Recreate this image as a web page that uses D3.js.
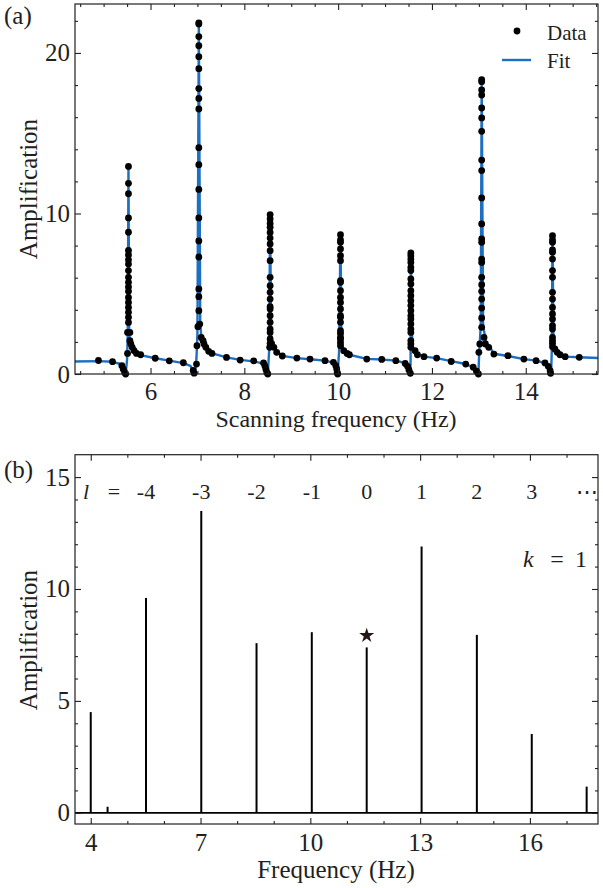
<!DOCTYPE html>
<html><head><meta charset="utf-8">
<script src="https://cdn.jsdelivr.net/npm/d3@7"></script>
<style>body{margin:0;background:#fff}svg{display:block}</style>
</head><body>
<svg id="c" width="603" height="888"></svg>
<script>
// ---------- Panel (a) data ----------
const peakCenters = [5.53, 7.03, 8.55, 10.05, 11.55, 13.06, 14.57];
const peakColumnValues = [
  [12.93, 11.88, 11.23, 9.72, 8.83, 7.70, 7.42, 7.11, 6.85, 6.44, 6.02, 5.71, 5.42, 5.15, 4.77, 4.46, 4.15, 3.84, 3.53, 3.21],
  [21.88, 21.80, 21.02, 20.45, 19.77, 19.02, 17.78, 17.17, 16.51, 14.10, 13.04, 11.50, 9.72, 8.29, 7.29, 5.30, 4.82, 3.94],
  [9.93, 9.66, 9.38, 9.14, 8.82, 8.47, 8.10, 7.68, 7.06, 6.02, 5.50, 5.09, 4.67, 4.19, 4.05, 3.63, 3.22, 2.80, 2.59, 2.18, 1.91],
  [8.68, 8.35, 8.20, 7.79, 7.37, 7.06, 5.81, 5.71, 5.19, 4.77, 4.46, 4.05, 3.63, 3.53, 3.22, 2.70, 2.53, 2.28, 2.18, 1.97, 1.76],
  [7.54, 7.37, 7.16, 6.95, 6.64, 6.44, 5.92, 5.61, 5.19, 4.88, 4.57, 4.26, 3.94, 3.63, 3.42, 3.12, 2.80, 2.59, 2.08, 1.87, 1.66],
  [18.33, 18.21, 17.70, 17.38, 16.57, 15.95, 15.12, 13.33, 12.67, 10.97, 9.35, 8.41, 8.20, 7.16, 6.95, 6.02, 5.56, 5.15, 4.67, 4.11, 3.49, 2.91],
  [8.62, 8.35, 8.20, 7.73, 7.58, 7.16, 6.44, 6.02, 5.09, 4.67, 4.15, 3.74, 3.42, 3.01, 2.80, 2.28, 2.08, 1.91, 1.70]
];
const offPeakPoints = [
  [4.89,0.84],[5.19,0.77],[5.39,0.52],[5.42,0.30],[5.45,0.10],[5.47,0.0],[5.51,1.28],[5.51,2.59],[5.56,2.59],
  [5.56,2.07],[5.58,1.87],[5.61,1.66],[5.65,1.45],[5.70,1.28],[5.79,1.20],[6.10,0.98],[6.40,0.82],[6.70,0.70],
  [6.91,0.22],[6.93,0.05],[6.98,0.62],[6.99,1.76],[7.01,2.95],
  [7.05,3.11],[7.08,2.28],[7.12,2.07],[7.14,1.87],[7.18,1.66],[7.24,1.41],[7.31,1.28],[7.62,1.03],[7.91,0.87],[8.20,0.82],
  [8.41,0.69],[8.44,0.50],[8.46,0.30],[8.48,0.10],[8.50,0.0],[8.54,1.66],
  [8.58,1.90],[8.63,1.66],[8.69,1.35],[8.81,1.12],[9.12,0.99],[9.40,0.93],[9.72,0.83],
  [9.90,0.73],[9.95,0.52],[9.97,0.31],[9.98,0.10],[9.99,0.0],
  [10.12,1.45],[10.19,1.28],[10.24,1.20],[10.61,0.93],[10.93,0.91],[11.23,0.83],[11.43,0.66],[11.48,0.48],[11.51,0.25],[11.54,0.04],
  [11.64,1.45],[11.69,1.20],[11.83,1.08],[12.10,0.99],[12.41,0.78],[12.72,0.62],[12.88,0.42],[12.95,0.17],[12.99,0.0],
  [13.00,1.35],[13.02,1.87],
  [13.11,2.28],[13.14,1.87],[13.21,1.66],[13.32,1.24],[13.62,1.14],[13.96,0.93],[14.22,0.83],[14.41,0.69],[14.48,0.48],[14.52,0.21],[14.53,0.04],
  [14.62,1.56],[14.67,1.35],[14.73,1.20],[14.84,1.08],[15.14,1.04]
];
const fitCurve = [
  [4.39,0.78],[4.89,0.80],[5.19,0.76],[5.34,0.64],[5.41,0.40],[5.45,0.12],[5.47,0.0],[5.50,0.9],[5.515,2.6],[5.53,12.95],[5.545,2.6],
  [5.56,2.1],[5.58,1.85],[5.61,1.65],[5.65,1.45],[5.70,1.3],[5.79,1.18],[6.10,0.98],[6.40,0.83],[6.70,0.68],[6.85,0.50],[6.91,0.25],
  [6.95,0.02],[6.98,1.0],[7.00,2.5],[7.03,21.9],[7.06,3.2],[7.08,2.4],[7.12,2.1],[7.15,1.85],[7.18,1.66],[7.24,1.42],[7.32,1.28],
  [7.62,1.04],[7.91,0.88],[8.20,0.79],[8.36,0.68],[8.43,0.50],[8.47,0.25],[8.50,0.0],[8.53,1.5],[8.55,9.93],[8.57,2.4],[8.60,1.9],
  [8.63,1.66],[8.69,1.38],[8.81,1.13],[9.12,0.99],[9.40,0.92],[9.72,0.83],[9.87,0.72],[9.95,0.50],[9.98,0.15],[9.99,0.0],[10.02,1.4],
  [10.05,8.68],[10.07,2.0],[10.12,1.45],[10.19,1.28],[10.24,1.20],[10.61,0.94],[10.93,0.90],[11.23,0.83],[11.40,0.70],[11.48,0.48],
  [11.51,0.25],[11.54,0.0],[11.545,1.0],[11.55,7.54],[11.58,1.7],[11.64,1.45],[11.69,1.22],[11.83,1.08],[12.10,0.99],[12.41,0.80],
  [12.72,0.62],[12.85,0.45],[12.95,0.17],[12.99,0.0],[13.01,1.5],[13.04,3.0],[13.06,18.3],[13.09,3.0],[13.14,2.2],[13.17,1.9],
  [13.24,1.66],[13.32,1.26],[13.62,1.12],[13.96,0.93],[14.22,0.83],[14.38,0.70],[14.48,0.48],[14.52,0.21],[14.54,0.0],[14.555,1.5],
  [14.57,8.6],[14.59,1.9],[14.62,1.56],[14.67,1.35],[14.73,1.20],[14.84,1.08],[15.14,1.04],[15.54,1.0]
];
const xTicksA = [6, 8, 10, 12, 14];
const yTicksA = [0, 10, 20];

// ---------- Panel (b) data ----------
const spikeFreq = [4.00, 4.46, 5.51, 7.02, 8.53, 10.04, 11.54, 13.04, 14.55, 16.05, 17.55];
const spikeAmp  = [4.50, 0.27, 9.60, 13.48, 7.58, 8.07, 7.39, 11.90, 7.95, 3.52, 1.17];
const orderLabels = ["-4", "-3", "-2", "-1", "0", "1", "2", "3", "\u22EF"];
const orderFreq   = [5.51, 7.02, 8.53, 10.04, 11.54, 13.04, 14.55, 16.05, 17.55];
const starPoint = [11.54, 7.92];
const xTicksB = [4, 7, 10, 13, 16];
const yTicksB = [0, 5, 10, 15];

// ---------- drawing ----------
const FONT = "'Liberation Serif','Times New Roman',serif";
const INK = "#231f20";
const BLUE = "#1c6fc1";
const svg = d3.select("#c");

function frame(g, x0, x1, y0, y1) {
  g.append("rect").attr("x", x0).attr("y", y0).attr("width", x1 - x0).attr("height", y1 - y0)
    .attr("fill", "none").attr("stroke", INK).attr("stroke-width", 1.2);
}
function styleAxis(sel) {
  sel.select(".domain").remove();
  sel.selectAll("line").attr("stroke", INK).attr("stroke-width", 1.1);
  sel.selectAll("text").attr("fill", INK).style("font-family", FONT).style("font-size", "25px");
}
function axesSet(x, y, xMajor, xMinor, yMajor, yMinor, xFmt, yFmt, xPad) {
  const [L, R] = x.range(), [B, T] = y.range();
  const g = svg.append("g");
  g.append("g").attr("transform", `translate(0,${B})`).call(d3.axisBottom(x).tickValues(xMajor).tickFormat(xFmt).tickSize(-6).tickPadding(xPad)).call(styleAxis);
  g.append("g").attr("transform", `translate(0,${B})`).call(d3.axisBottom(x).tickValues(xMinor).tickFormat("").tickSize(-3)).call(styleAxis);
  g.append("g").attr("transform", `translate(0,${T})`).call(d3.axisTop(x).tickValues(xMajor).tickFormat("").tickSize(-6)).call(styleAxis);
  g.append("g").attr("transform", `translate(0,${T})`).call(d3.axisTop(x).tickValues(xMinor).tickFormat("").tickSize(-3)).call(styleAxis);
  g.append("g").attr("transform", `translate(${L},0)`).call(d3.axisLeft(y).tickValues(yMajor).tickFormat(yFmt).tickSize(-6).tickPadding(5)).call(styleAxis);
  g.append("g").attr("transform", `translate(${L},0)`).call(d3.axisLeft(y).tickValues(yMinor).tickFormat("").tickSize(-3)).call(styleAxis);
  g.append("g").attr("transform", `translate(${R},0)`).call(d3.axisRight(y).tickValues(yMajor).tickFormat("").tickSize(-6)).call(styleAxis);
  g.append("g").attr("transform", `translate(${R},0)`).call(d3.axisRight(y).tickValues(yMinor).tickFormat("").tickSize(-3)).call(styleAxis);
  frame(g, L, R, T, B);
}
function txt(x, y, s, size, opts = {}) {
  const t = svg.append("text").attr("x", x).attr("y", y).text(s)
    .attr("fill", opts.fill || INK).style("font-family", FONT).style("font-size", size + "px")
    .attr("text-anchor", opts.anchor || "start");
  if (opts.italic) t.style("font-style", "italic");
  if (opts.rotate) t.attr("transform", `rotate(-90,${x},${y})`);
  return t;
}

// ----- Panel (a)
const xA = d3.scaleLinear().domain([4.39, 15.54]).range([75, 598]);
const yA = d3.scaleLinear().domain([0, 23.05]).range([374, 4]);
svg.append("clipPath").attr("id", "clipA").append("rect")
  .attr("x", 75).attr("y", 4).attr("width", 523).attr("height", 370);
const gA = svg.append("g");
gA.append("path").datum(fitCurve)
  .attr("d", d3.line().x(d => xA(d[0])).y(d => yA(d[1])))
  .attr("fill", "none").attr("stroke", BLUE).attr("stroke-width", 2.4).attr("stroke-linejoin", "round")
  .attr("clip-path", "url(#clipA)");
const dataPoints = offPeakPoints.concat(...peakCenters.map((c, i) => peakColumnValues[i].map(v => [c, v])));
gA.selectAll("circle").data(dataPoints).join("circle")
  .attr("cx", d => xA(d[0])).attr("cy", d => yA(d[1])).attr("r", 3.4).attr("fill", "#000");
axesSet(xA, yA, xTicksA, d3.range(4.5, 15.51, 0.5).filter(v => v % 2 !== 0),
  yTicksA, d3.range(2, 23, 2).filter(v => v % 10 !== 0), d3.format("d"), d3.format("d"), 8);

// legend
svg.append("circle").attr("cx", 517).attr("cy", 31).attr("r", 3.4).attr("fill", "#000");
txt(547, 40, "Data", 21);
svg.append("line").attr("x1", 502).attr("x2", 531).attr("y1", 60).attr("y2", 60).attr("stroke", BLUE).attr("stroke-width", 2.4);
txt(547, 68, "Fit", 21);

txt(4, 24, "(a)", 25);
txt(37, 189, "Amplification", 25, { anchor: "middle", rotate: true });
txt(336, 427, "Scanning frequency (Hz)", 24, { anchor: "middle" });

// ----- Panel (b)
const xB = d3.scaleLinear().domain([3.57, 17.86]).range([75, 598]);
const yB = d3.scaleLinear().domain([-0.5, 16]).range([824, 454.7]);
const gB = svg.append("g");
gB.append("line").attr("x1", xB(3.57)).attr("x2", xB(17.86)).attr("y1", yB(0)).attr("y2", yB(0))
  .attr("stroke", "#000").attr("stroke-width", 1.8);
gB.selectAll("line.spike").data(spikeFreq.map((f, i) => [f, spikeAmp[i]])).join("line").attr("class", "spike")
  .attr("x1", d => xB(d[0])).attr("x2", d => xB(d[0])).attr("y1", yB(0)).attr("y2", d => yB(d[1]))
  .attr("stroke", "#000").attr("stroke-width", 2);
gB.append("path").attr("d", d3.symbol(d3.symbolStar, 70)())
  .attr("transform", `translate(${xB(starPoint[0])},${yB(starPoint[1])})`).attr("fill", "#231815");
axesSet(xB, yB, xTicksB, d3.range(5, 17.1, 1).filter(v => (v - 4) % 3 !== 0),
  yTicksB, d3.range(1, 16, 1).filter(v => v % 5 !== 0), d3.format("d"), d3.format("d"), 9);

// order labels
txt(83, 499, "l", 22, { italic: true });
txt(114, 499, "=", 22, { anchor: "middle" });
svg.selectAll("text.ord").data(orderLabels.map((s, i) => [s, orderFreq[i]])).join("text").attr("class", "ord")
  .attr("x", d => xB(d[1])).attr("y", 499).text(d => d[0]).attr("text-anchor", "middle")
  .attr("fill", INK).style("font-family", FONT).style("font-size", "22px");
txt(523, 567, "k", 24, { italic: true });
txt(557, 567, "=", 24, { anchor: "middle" });
txt(587, 567, "1", 24, { anchor: "end" });

txt(4, 478, "(b)", 25);
txt(37, 640, "Amplification", 25, { anchor: "middle", rotate: true });
txt(336, 878, "Frequency (Hz)", 25, { anchor: "middle" });
</script>
</body></html>
